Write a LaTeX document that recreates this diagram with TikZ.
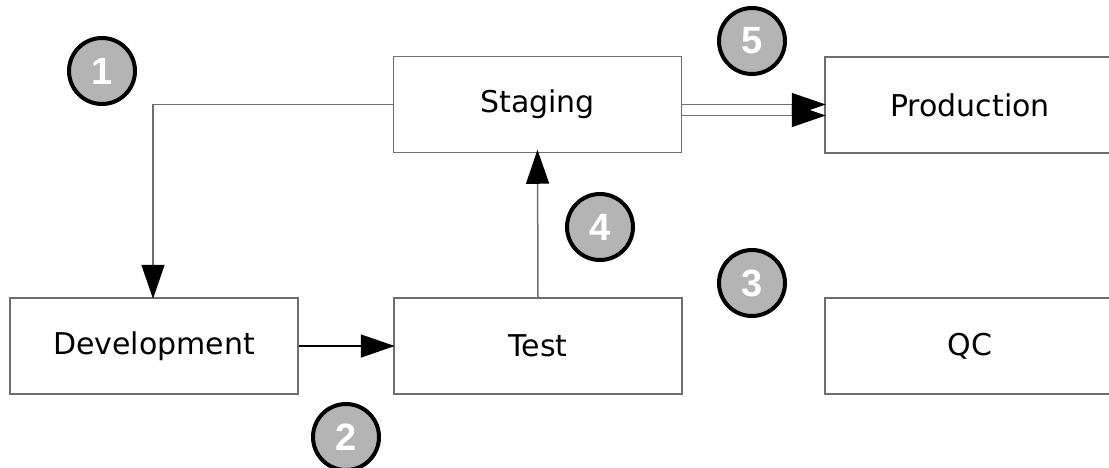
\documentclass[tikz,border=0pt]{standalone}
\usepackage{fontspec}
\setmainfont{DejaVu Sans}
\newfontfamily\badgefont{Liberation Sans}
\usetikzlibrary{arrows.meta,calc}
\definecolor{edgegray}{RGB}{110,110,110}
\definecolor{badgegray}{RGB}{180,180,180}
\tikzset{
  stagebox/.style={draw=edgegray, line width=1.5pt, fill=white, rectangle,
    minimum width=288pt, minimum height=96pt, inner sep=0pt,
    font=\fontsize{30}{36}\selectfont},
  conn/.style={draw=edgegray, line width=1.5pt, shorten >=-1.5pt,
    -{Triangle[length=34pt,width=23pt,color=black,fill=black]}},
  badge/.style={circle, draw=black, line width=4pt, fill=badgegray, minimum size=66pt,
    inner sep=0pt, text=white, font=\badgefont\bfseries\fontsize{38}{40}\selectfont}
}
\begin{document}
\begin{tikzpicture}[x=1pt,y=-1pt]
\useasboundingbox (0,0) rectangle (1109,467);
\clip (0,0) rectangle (1109,467);
\node[stagebox] (staging) at (537.5,104.5) {Staging};
\node[stagebox, minimum width=290pt] (production) at (970,105) {Production};
\node[stagebox] (dev) at (154,346) {Development};
\node[stagebox] (test) at (538,346) {Test};
\node[stagebox, minimum width=290pt] (qc) at (970,346) {QC};
\coordinate (devtop) at ($(dev.north)+(-1,0)$);
\draw[conn] (staging.west) -| (devtop);
\draw[conn, draw=black] (dev.east) -- (test.west);
\draw[conn, shorten >=-3.5pt] (test.north) -- (staging.south);
\coordinate (s1) at ($(staging.east)+(0,0)$);
\coordinate (s2) at ($(staging.east)+(0,11)$);
\coordinate (p1) at ($(production.west)+(0,-0.5)$);
\coordinate (p2) at ($(production.west)+(0,10.5)$);
\draw[conn] (s1) -- (p1);
\draw[conn] (s2) -- (p2);
\node[badge] (b1) at (102,71) {1};
\node[badge] (b2) at (346,437) {2};
\node[badge] (b3) at (752,283) {3};
\node[badge] (b4) at (600,227) {4};
\node[badge] (b5) at (752,41) {5};
\end{tikzpicture}
\end{document}
